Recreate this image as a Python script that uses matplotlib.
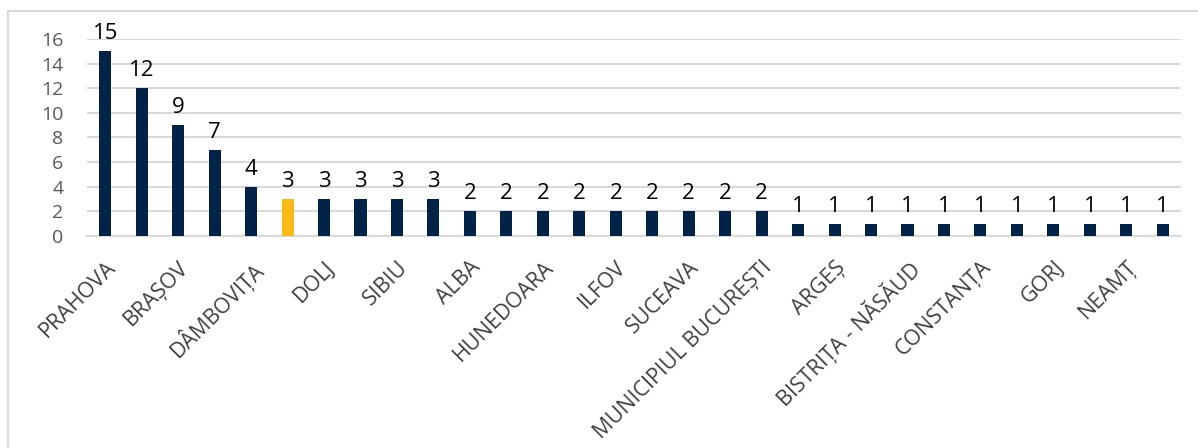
import matplotlib.pyplot as plt
from matplotlib.patches import Rectangle

# judete (doar etichetele afisate pe axa, la fiecare a doua bara)
etichete = ["PRAHOVA", "BRAȘOV", "DÂMBOVIȚA", "DOLJ", "SIBIU", "ALBA", "HUNEDOARA",
            "ILFOV", "SUCEAVA", "MUNICIPIUL BUCUREȘTI", "ARGEȘ", "BISTRIȚA - NĂSĂUD",
            "CONSTANȚA", "GORJ", "NEAMȚ"]
valori = [15, 12, 9, 7, 4, 3, 3, 3, 3, 3,
          2, 2, 2, 2, 2, 2, 2, 2, 2,
          1, 1, 1, 1, 1, 1, 1, 1, 1, 1, 1]
evidentiat = 5  # bara galbena

albastru = "#002347"
galben = "#FDB913"

plt.rcParams['font.family'] = ['Open Sans', 'DejaVu Sans']

fig = plt.figure(figsize=(11.98, 4.48), dpi=100)
ax = fig.add_axes([87 / 1198, 1 - 236 / 448, (1181 - 87) / 1198, (236 - 39) / 448])

x = list(range(len(valori)))
culori = [galben if i == evidentiat else albastru for i in x]
ax.bar(x, valori, width=0.33, color=culori, zorder=3)

for xi, v in zip(x, valori):
    ax.annotate(str(v), (xi, v), xytext=(0, 5), textcoords="offset points",
                ha="center", va="bottom", fontsize=16, color="black", annotation_clip=False)

ax.set_xlim(-0.5, len(valori) - 0.5)
ax.set_ylim(0, 16)
ax.set_yticks(range(0, 17, 2))
ax.yaxis.grid(True, color="#d9d9d9", linewidth=1.5, zorder=0)
ax.set_axisbelow(True)
for s in ["top", "right", "left"]:
    ax.spines[s].set_visible(False)
ax.spines["bottom"].set_color("#d9d9d9")
ax.spines["bottom"].set_linewidth(1.5)

ax.set_xticks(x[::2])
ax.set_xticklabels(etichete, rotation=45, ha="right", rotation_mode="anchor",
                   fontsize=15.5, color="#404040")
ax.tick_params(axis="x", length=0, pad=15)
ax.tick_params(axis="y", length=0, labelsize=14, labelcolor="#595959", pad=17)

# chenarul graficului
fig.patches.append(Rectangle((8 / 1198, -0.05), 1.1, 1 - 11 / 448 + 0.05,
                             transform=fig.transFigure, fill=False,
                             edgecolor="#d9d9d9", linewidth=1.5))

fig.savefig("out.png", dpi=100)
